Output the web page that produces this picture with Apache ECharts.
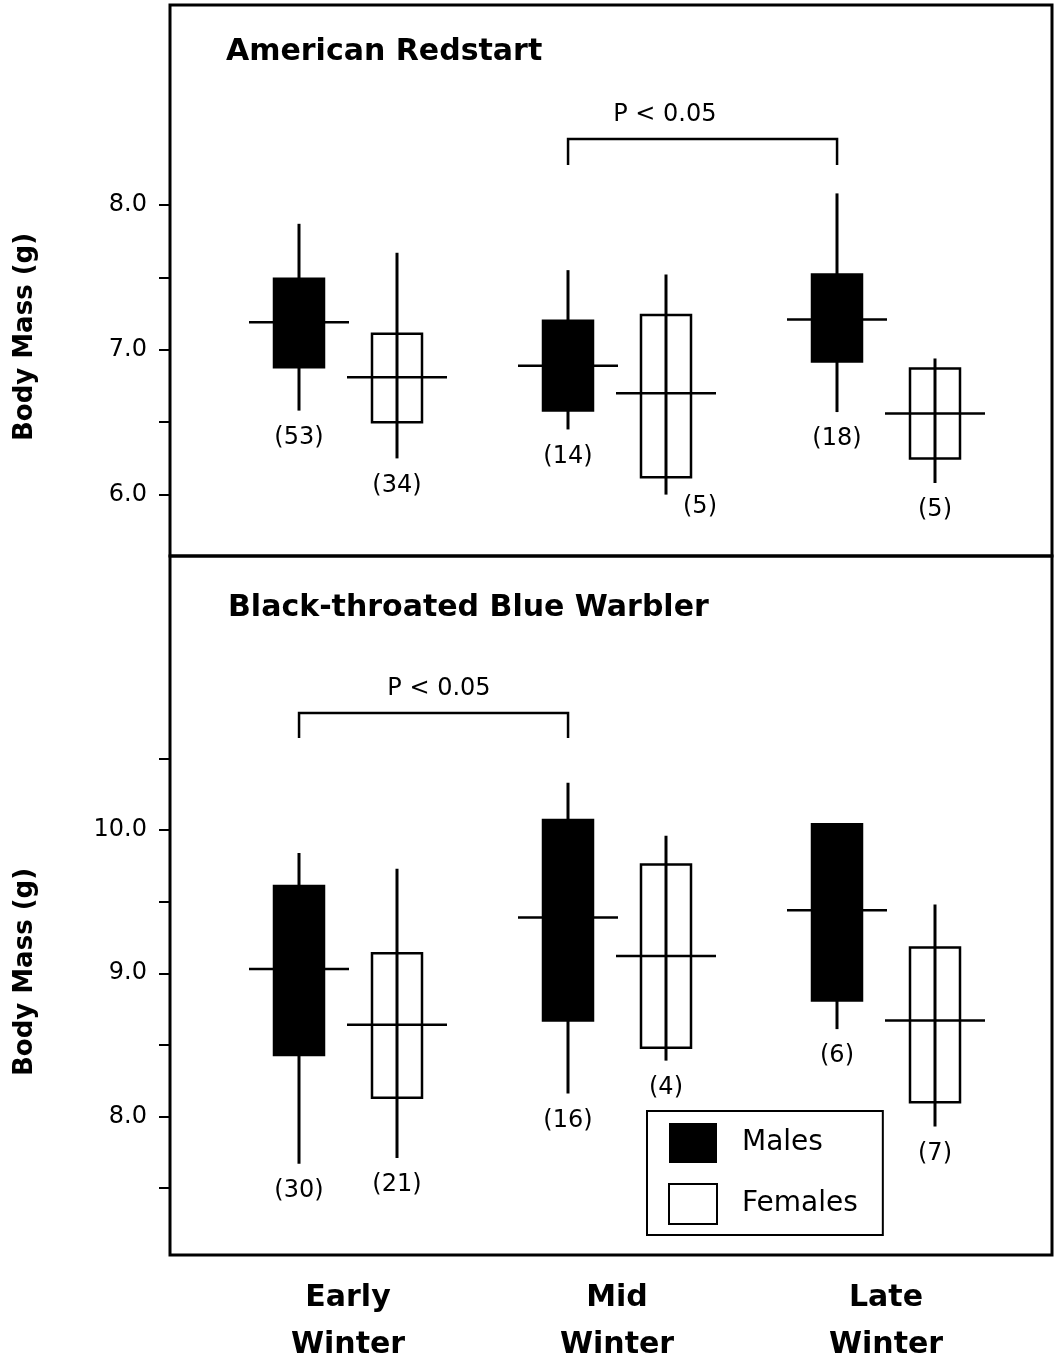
<!DOCTYPE html>
<html><head><meta charset="utf-8">
<script src="https://cdn.jsdelivr.net/npm/echarts@6/dist/echarts.min.js"></script>
<style>html,body{margin:0;padding:0;background:#fff;overflow:hidden}#c{width:1058px;height:1360px}</style>
</head><body><div id="c"></div>
<script>
// ---------------- DATA ----------------
const periods = ['Early\nWinter', 'Mid\nWinter', 'Late\nWinter'];
const speciesTitles = ['American Redstart', 'Black-throated Blue Warbler'];
const yAxisTitle = 'Body Mass (g)';

const redstartTicks = [6.0, 6.5, 7.0, 7.5, 8.0];
const redstartTickLabels = [6.0, 7.0, 8.0];
const warblerTicks = [7.5, 8.0, 8.5, 9.0, 9.5, 10.0, 10.5];
const warblerTickLabels = [8.0, 9.0, 10.0];

// each entry: [whisker low, box low, mean, box high, whisker high]
const redstartMales   = [[6.58, 6.88, 7.19, 7.49, 7.87], [6.45, 6.58, 6.89, 7.20, 7.55], [6.57, 6.92, 7.21, 7.52, 8.08]];
const redstartFemales = [[6.25, 6.50, 6.81, 7.11, 7.67], [6.00, 6.12, 6.70, 7.24, 7.52], [6.08, 6.25, 6.56, 6.87, 6.94]];
const redstartMalesN   = [53, 14, 18];
const redstartFemalesN = [34, 5, 5];

const warblerMales   = [[7.67, 8.43, 9.03, 9.61, 9.84], [8.16, 8.67, 9.39, 10.07, 10.33], [8.61, 8.81, 9.44, 10.04, 10.04]];
const warblerFemales = [[7.71, 8.13, 8.64, 9.14, 9.73], [8.39, 8.48, 9.12, 9.76, 9.96], [7.93, 8.10, 8.67, 9.18, 9.48]];
const warblerMalesN   = [30, 16, 6];
const warblerFemalesN = [21, 4, 7];

// significance brackets: [from period, to period, bar level, leg end level] (between males)
const redstartBracket = [1, 2, 8.456, 8.276];
const warblerBracket  = [0, 1, 10.817, 10.642];
const bracketLabel = 'P < 0.05';

// ---------------- RENDERING ----------------
const FONT = '"DejaVu Sans", Verdana, sans-serif';
const SIDE_OFFSET = 0.182;

function rows(stats) { return stats.map((s, i) => [i].concat(s)); }

function boxRender(side, filled, counts, nudges) {
  return function (params, api) {
    const x = api.value(0) + side * SIDE_OFFSET;
    const wLo = api.coord([x, api.value(1)]);
    const bLo = api.coord([x, api.value(2)]);
    const mn  = api.coord([x, api.value(3)]);
    const bHi = api.coord([x, api.value(4)]);
    const wHi = api.coord([x, api.value(5)]);
    const cx = Math.round(mn[0]);
    const hb = 25, hm = 50;
    const nd = (nudges && nudges[params.dataIndex]) || [0, 0];
    return {
      type: 'group',
      children: [
        { type: 'rect', shape: { x: cx - hb, y: bHi[1], width: 2 * hb, height: bLo[1] - bHi[1] },
          style: { fill: filled ? '#000' : '#fff', stroke: '#000', lineWidth: 2.5 } },
        { type: 'line', shape: { x1: cx, y1: wHi[1], x2: cx, y2: wLo[1] },
          style: { stroke: '#000', lineWidth: 3 } },
        { type: 'line', shape: { x1: cx - hm, y1: mn[1], x2: cx + hm, y2: mn[1] },
          style: { stroke: '#000', lineWidth: 2.5 } },
        { type: 'text', style: { text: '(' + counts[params.dataIndex] + ')', x: cx + nd[0], y: wLo[1] + 27 + nd[1],
          align: 'center', verticalAlign: 'middle', font: '24px ' + FONT, fill: '#000' } }
      ]
    };
  };
}

function bracketRender(labelFrac) {
  return function (params, api) {
    const x1 = api.value(0) - SIDE_OFFSET, x2 = api.value(1) - SIDE_OFFSET;
    const a = api.coord([x1, api.value(3)]);
    const b = api.coord([x1, api.value(2)]);
    const c = api.coord([x2, api.value(2)]);
    const d = api.coord([x2, api.value(3)]);
    const tx = b[0] + (c[0] - b[0]) * labelFrac;
    return {
      type: 'group',
      children: [
        { type: 'polyline', shape: { points: [a, b, c, d] }, style: { stroke: '#000', lineWidth: 2.5, fill: null } },
        { type: 'text', style: { text: bracketLabel, x: tx, y: b[1] - 24, align: 'center', verticalAlign: 'middle',
          font: '24px ' + FONT, fill: '#000' } }
      ]
    };
  };
}

const xMin = -0.6617, xMax = 2.617;

const option = {
  animation: false,
  backgroundColor: '#fff',
  grid: [
    { left: 170, top: 5, width: 882, height: 551, show: true, borderColor: '#000', borderWidth: 3,
      backgroundColor: 'transparent', containLabel: false, outerBoundsMode: 'none' },
    { left: 170, top: 556, width: 882, height: 699, show: true, borderColor: '#000', borderWidth: 3,
      backgroundColor: 'transparent', containLabel: false, outerBoundsMode: 'none' }
  ],
  xAxis: [
    { gridIndex: 0, type: 'value', min: xMin, max: xMax, axisLine: { show: false, onZero: false }, axisTick: { show: false },
      axisLabel: { show: false }, splitLine: { show: false } },
    { gridIndex: 1, type: 'value', min: xMin, max: xMax, axisLine: { show: false, onZero: false }, axisTick: { show: false },
      splitLine: { show: false },
      axisLabel: { show: true, customValues: [0, 1, 2], formatter: v => periods[Math.round(v)],
        fontFamily: FONT, fontWeight: 'bold', fontSize: 30, lineHeight: 47, color: '#000', margin: 20 } }
  ],
  yAxis: [
    { gridIndex: 0, type: 'value', min: 5.576, max: 9.381, splitLine: { show: false }, axisLine: { show: false, onZero: false },
      axisTick: { show: true, customValues: redstartTicks, length: 11, lineStyle: { color: '#000', width: 2 } },
      axisLabel: { customValues: redstartTickLabels, formatter: v => v.toFixed(1), fontFamily: FONT, fontSize: 24, color: '#000', margin: 23 } },
    { gridIndex: 1, type: 'value', min: 7.033, max: 11.913, splitLine: { show: false }, axisLine: { show: false, onZero: false },
      axisTick: { show: true, customValues: warblerTicks, length: 11, lineStyle: { color: '#000', width: 2 } },
      axisLabel: { customValues: warblerTickLabels, formatter: v => v.toFixed(1), fontFamily: FONT, fontSize: 24, color: '#000', margin: 23 } }
  ],
  legend: {
    orient: 'vertical', left: 647, top: 1111, selectedMode: false,
    backgroundColor: '#fff', borderColor: '#000', borderWidth: 2,
    padding: [12, 25, 10, 21], itemGap: 20, itemWidth: 48, itemHeight: 40, icon: 'rect',
    textStyle: { fontFamily: FONT, fontSize: 28, color: '#000', padding: [0, 0, 0, 20] },
    data: [
      { name: 'Males', itemStyle: { color: '#000', borderWidth: 0 } },
      { name: 'Females', itemStyle: { color: '#fff', borderColor: '#000', borderWidth: 2 } }
    ]
  },
  graphic: [
    { type: 'text', left: 226, top: 37, style: { text: speciesTitles[0], font: 'bold 30px ' + FONT, fill: '#000' } },
    { type: 'text', left: 228, top: 593, style: { text: speciesTitles[1], font: 'bold 30px ' + FONT, fill: '#000' } },
    { type: 'text', x: 25, y: 337, rotation: Math.PI / 2,
      style: { text: yAxisTitle, font: 'bold 26px ' + FONT, fill: '#000', align: 'center', verticalAlign: 'middle' } },
    { type: 'text', x: 25, y: 972, rotation: Math.PI / 2,
      style: { text: yAxisTitle, font: 'bold 26px ' + FONT, fill: '#000', align: 'center', verticalAlign: 'middle' } }
  ],
  series: [
    { name: 'Males', type: 'custom', xAxisIndex: 0, yAxisIndex: 0, itemStyle: { color: '#000' },
      renderItem: boxRender(-1, true, redstartMalesN), data: rows(redstartMales), encode: { x: 0, y: [1, 2, 3, 4, 5] } },
    { name: 'Females', type: 'custom', xAxisIndex: 0, yAxisIndex: 0, itemStyle: { color: '#fff', borderColor: '#000' },
      renderItem: boxRender(1, false, redstartFemalesN, { 1: [34, -15] }), data: rows(redstartFemales), encode: { x: 0, y: [1, 2, 3, 4, 5] } },
    { name: 'Males', type: 'custom', xAxisIndex: 1, yAxisIndex: 1, itemStyle: { color: '#000' },
      renderItem: boxRender(-1, true, warblerMalesN), data: rows(warblerMales), encode: { x: 0, y: [1, 2, 3, 4, 5] } },
    { name: 'Females', type: 'custom', xAxisIndex: 1, yAxisIndex: 1, itemStyle: { color: '#fff', borderColor: '#000' },
      renderItem: boxRender(1, false, warblerFemalesN), data: rows(warblerFemales), encode: { x: 0, y: [1, 2, 3, 4, 5] } },
    { name: 'sig1', type: 'custom', xAxisIndex: 0, yAxisIndex: 0, renderItem: bracketRender(0.36),
      data: [redstartBracket], encode: { x: [0, 1], y: [2, 3] } },
    { name: 'sig2', type: 'custom', xAxisIndex: 1, yAxisIndex: 1, renderItem: bracketRender(0.52),
      data: [warblerBracket], encode: { x: [0, 1], y: [2, 3] } }
  ]
};

const chart = echarts.init(document.getElementById('c'), null, { renderer: 'canvas' });
chart.setOption(option);
</script>
</body></html>
